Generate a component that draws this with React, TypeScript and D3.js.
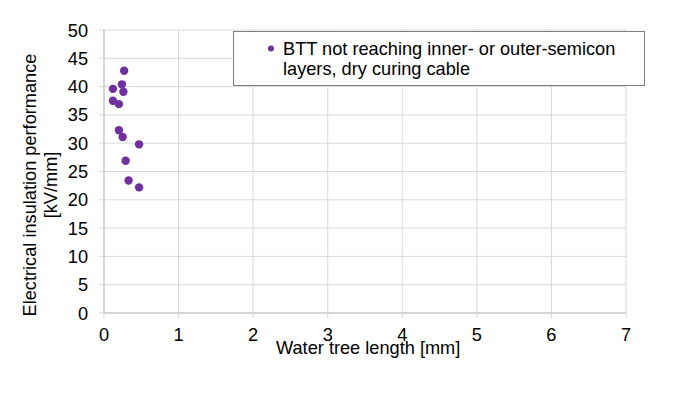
import React from 'react';
import * as d3 from 'd3';

const waterTreeLength = [0.27, 0.12, 0.24, 0.26, 0.12, 0.2, 0.2, 0.25, 0.47, 0.29, 0.33, 0.47];
const insulationPerf = [42.8, 39.6, 40.4, 39.1, 37.5, 36.9, 32.3, 31.1, 29.8, 26.9, 23.4, 22.2];
const xTicks = [0, 1, 2, 3, 4, 5, 6, 7];
const yTicks = [0, 5, 10, 15, 20, 25, 30, 35, 40, 45, 50];
const legendLines = ['BTT not reaching inner- or outer-semicon', 'layers, dry curing cable'];

const width = 700;
const height = 412;
const margin = { top: 30, right: 74, bottom: 99, left: 104 };
const font = 'Liberation Sans, Arial, sans-serif';
const fs = 18.2;
const purple = '#7030a0';
const grid = '#d9d9d9';

export default function App(): React.ReactElement {
  const x = d3.scaleLinear().domain([0, 7]).range([margin.left, width - margin.right]);
  const y = d3.scaleLinear().domain([0, 50]).range([height - margin.bottom, margin.top]);
  const points = waterTreeLength.map((v, i) => ({ x: v, y: insulationPerf[i] }));

  return (
    <svg
      width={width}
      height={height}
      style={{ position: 'absolute', left: 0, top: 0, background: '#fff' }}
      fontFamily={font}
    >
      <rect width={width} height={height} fill="#fff" />
      {/* grid */}
      {yTicks.map(t => (
        <line key={'gy' + t} x1={x(0) - 5} x2={x(7)} y1={y(t)} y2={y(t)} stroke={grid} strokeWidth={1} />
      ))}
      {xTicks.map(t => (
        <line key={'gx' + t} x1={x(t)} x2={x(t)} y1={y(50)} y2={y(0) + 5} stroke={grid} strokeWidth={1} />
      ))}
      <line x1={x(0)} x2={x(0)} y1={y(50)} y2={y(0)} stroke="#bfbfbf" />
      <line x1={x(0)} x2={x(7)} y1={y(0)} y2={y(0)} stroke="#bfbfbf" />

      {/* tick labels */}
      {yTicks.map(t => (
        <text key={'ty' + t} x={88} y={y(t)} dy="0.36em" textAnchor="end" fontSize={fs} fill="#000">
          {t}
        </text>
      ))}
      {xTicks.map(t => (
        <text key={'tx' + t} x={x(t)} y={341} textAnchor="middle" fontSize={fs} fill="#000">
          {t}
        </text>
      ))}

      {/* axis titles */}
      <text x={276} y={354} textAnchor="start" fontSize={fs} fill="#000">
        Water tree length [mm]
      </text>
      <g transform="translate(0,185) rotate(-90)">
        <text x={0} y={36} textAnchor="middle" fontSize={fs} fill="#000">
          Electrical insulation performance
        </text>
        <text x={0} y={56.5} textAnchor="middle" fontSize={fs} fill="#000">
          [kV/mm]
        </text>
      </g>

      {/* points */}
      {points.map((p, i) => (
        <circle key={i} cx={x(p.x)} cy={y(p.y)} r={4.2} fill={purple} />
      ))}

      {/* legend */}
      <rect x={233.5} y={31.5} width={411} height={54} fill="#fff" stroke="#7f7f7f" strokeWidth={1} />
      <circle cx={271} cy={48.5} r={3} fill={purple} />
      {legendLines.map((l, i) => (
        <text key={l} x={283} y={55 + i * 20} fontSize={fs} fill="#000">
          {l}
        </text>
      ))}
    </svg>
  );
}
